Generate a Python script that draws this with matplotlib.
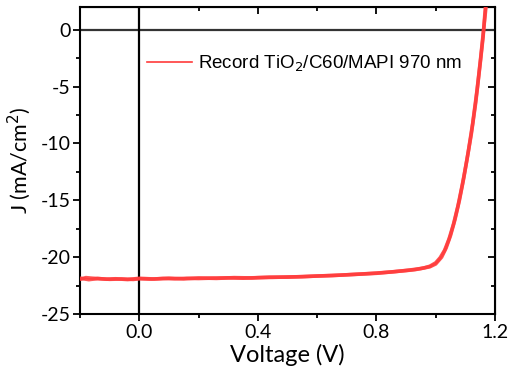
import matplotlib

matplotlib.use("Agg")
import matplotlib.pyplot as plt
from matplotlib.ticker import MultipleLocator

# J-V scans (voltage in V, current density in mA/cm2)
volt_a = [-0.20, -0.18, -0.16, -0.13, -0.10, -0.06, -0.02, 0.00, 0.04, 0.08, 0.12,
          0.16, 0.20, 0.25, 0.30, 0.35, 0.40, 0.45, 0.50, 0.55, 0.60, 0.65, 0.70,
          0.75, 0.80, 0.85, 0.90, 0.93, 0.96, 0.98, 1.00, 1.015, 1.03, 1.045,
          1.06, 1.075, 1.09, 1.105, 1.12, 1.135, 1.15, 1.16, 1.168]
curr_a = [-21.95, -21.80, -21.85, -21.90, -21.95, -21.92, -21.96, -21.90, -21.93,
          -21.88, -21.90, -21.86, -21.88, -21.84, -21.82, -21.85, -21.80, -21.78,
          -21.74, -21.72, -21.66, -21.62, -21.55, -21.48, -21.40, -21.30, -21.18,
          -21.10, -20.95, -20.80, -20.50, -20.05, -19.40, -18.40, -17.10, -15.50,
          -13.60, -11.50, -9.20, -6.40, -3.00, -0.60, 2.10]

volt_b = [-0.20, -0.17, -0.14, -0.11, -0.08, -0.04, 0.00, 0.05, 0.10, 0.15, 0.20,
          0.26, 0.32, 0.38, 0.44, 0.50, 0.56, 0.62, 0.68, 0.74, 0.80, 0.86, 0.91,
          0.95, 0.98, 1.00, 1.02, 1.035, 1.05, 1.065, 1.08, 1.095, 1.11, 1.125,
          1.14, 1.152, 1.162, 1.17]
curr_b = [-21.85, -21.98, -21.88, -21.94, -21.90, -21.97, -21.86, -21.92, -21.85,
          -21.91, -21.83, -21.87, -21.80, -21.83, -21.76, -21.76, -21.70, -21.64,
          -21.58, -21.50, -21.42, -21.28, -21.14, -21.00, -20.85, -20.60, -20.00,
          -19.20, -18.10, -16.70, -15.00, -13.00, -10.70, -8.20, -5.20, -2.40,
          0.10, 2.10]

xticks = [0.0, 0.4, 0.8, 1.2]
xticklabels = ["0.0", "0.4", "0.8", "1.2"]
yticks = [0, -5, -10, -15, -20, -25]
yticklabels = ["0", "-5", "-10", "-15", "-20", "-25"]
label = "Record TiO$_2$/C60/MAPI 970 nm"
red = "#ff3b3b"

plt.rcParams["font.family"] = ["Lato", "DejaVu Sans"]

fig = plt.figure(figsize=(5.14, 3.79), dpi=100)
ax = fig.add_axes([0.1556, 0.1715, 0.8074, 0.81])

ax.axhline(0, color="#333333", lw=1.6, zorder=1)
ax.axvline(0, color="black", lw=1.6, zorder=1)

ax.plot(volt_a, curr_a, color=red, lw=2.6, alpha=0.85, zorder=3, label=label)
ax.plot(volt_b, curr_b, color=red, lw=2.6, alpha=0.85, zorder=3)

ax.set_xlim(-0.2, 1.2)
ax.set_ylim(-25, 2)
ax.set_xticks(xticks)
ax.set_xticklabels(xticklabels)
ax.set_yticks(yticks)
ax.set_yticklabels(yticklabels)
ax.xaxis.set_minor_locator(MultipleLocator(0.2))
ax.yaxis.set_minor_locator(MultipleLocator(2.5))

for s in ax.spines.values():
    s.set_linewidth(1.5)
ax.tick_params(which="major", direction="out", length=5, width=1.3, labelsize=14, pad=2)
ax.tick_params(which="minor", direction="out", length=3, width=1.3)

# mirrored inward ticks on top and right
top = ax.secondary_xaxis("top")
top.set_xticks(xticks)
top.xaxis.set_minor_locator(MultipleLocator(0.2))
top.tick_params(which="major", direction="in", length=5, width=1.3, labeltop=False)
top.tick_params(which="minor", direction="in", length=3, width=1.3)
right = ax.secondary_yaxis("right")
right.set_yticks(yticks)
right.yaxis.set_minor_locator(MultipleLocator(2.5))
right.tick_params(which="major", direction="in", length=5, width=1.3, labelright=False)
right.tick_params(which="minor", direction="in", length=3, width=1.3)

ax.set_xlabel("Voltage (V)", fontsize=17, labelpad=2)
ax.set_ylabel("J (mA/cm$^2$)", fontsize=15.5, labelpad=5)

leg = ax.legend(loc="center left", bbox_to_anchor=(0.161, 0.815), frameon=False,
                borderpad=0, borderaxespad=0, handlelength=2.4, handletextpad=0.35,
                prop={"family": "Liberation Sans", "size": 13.5})
for h in leg.get_lines():
    h.set_linewidth(1.2)
    h.set_alpha(1)

fig.savefig("out.png", dpi=100)
